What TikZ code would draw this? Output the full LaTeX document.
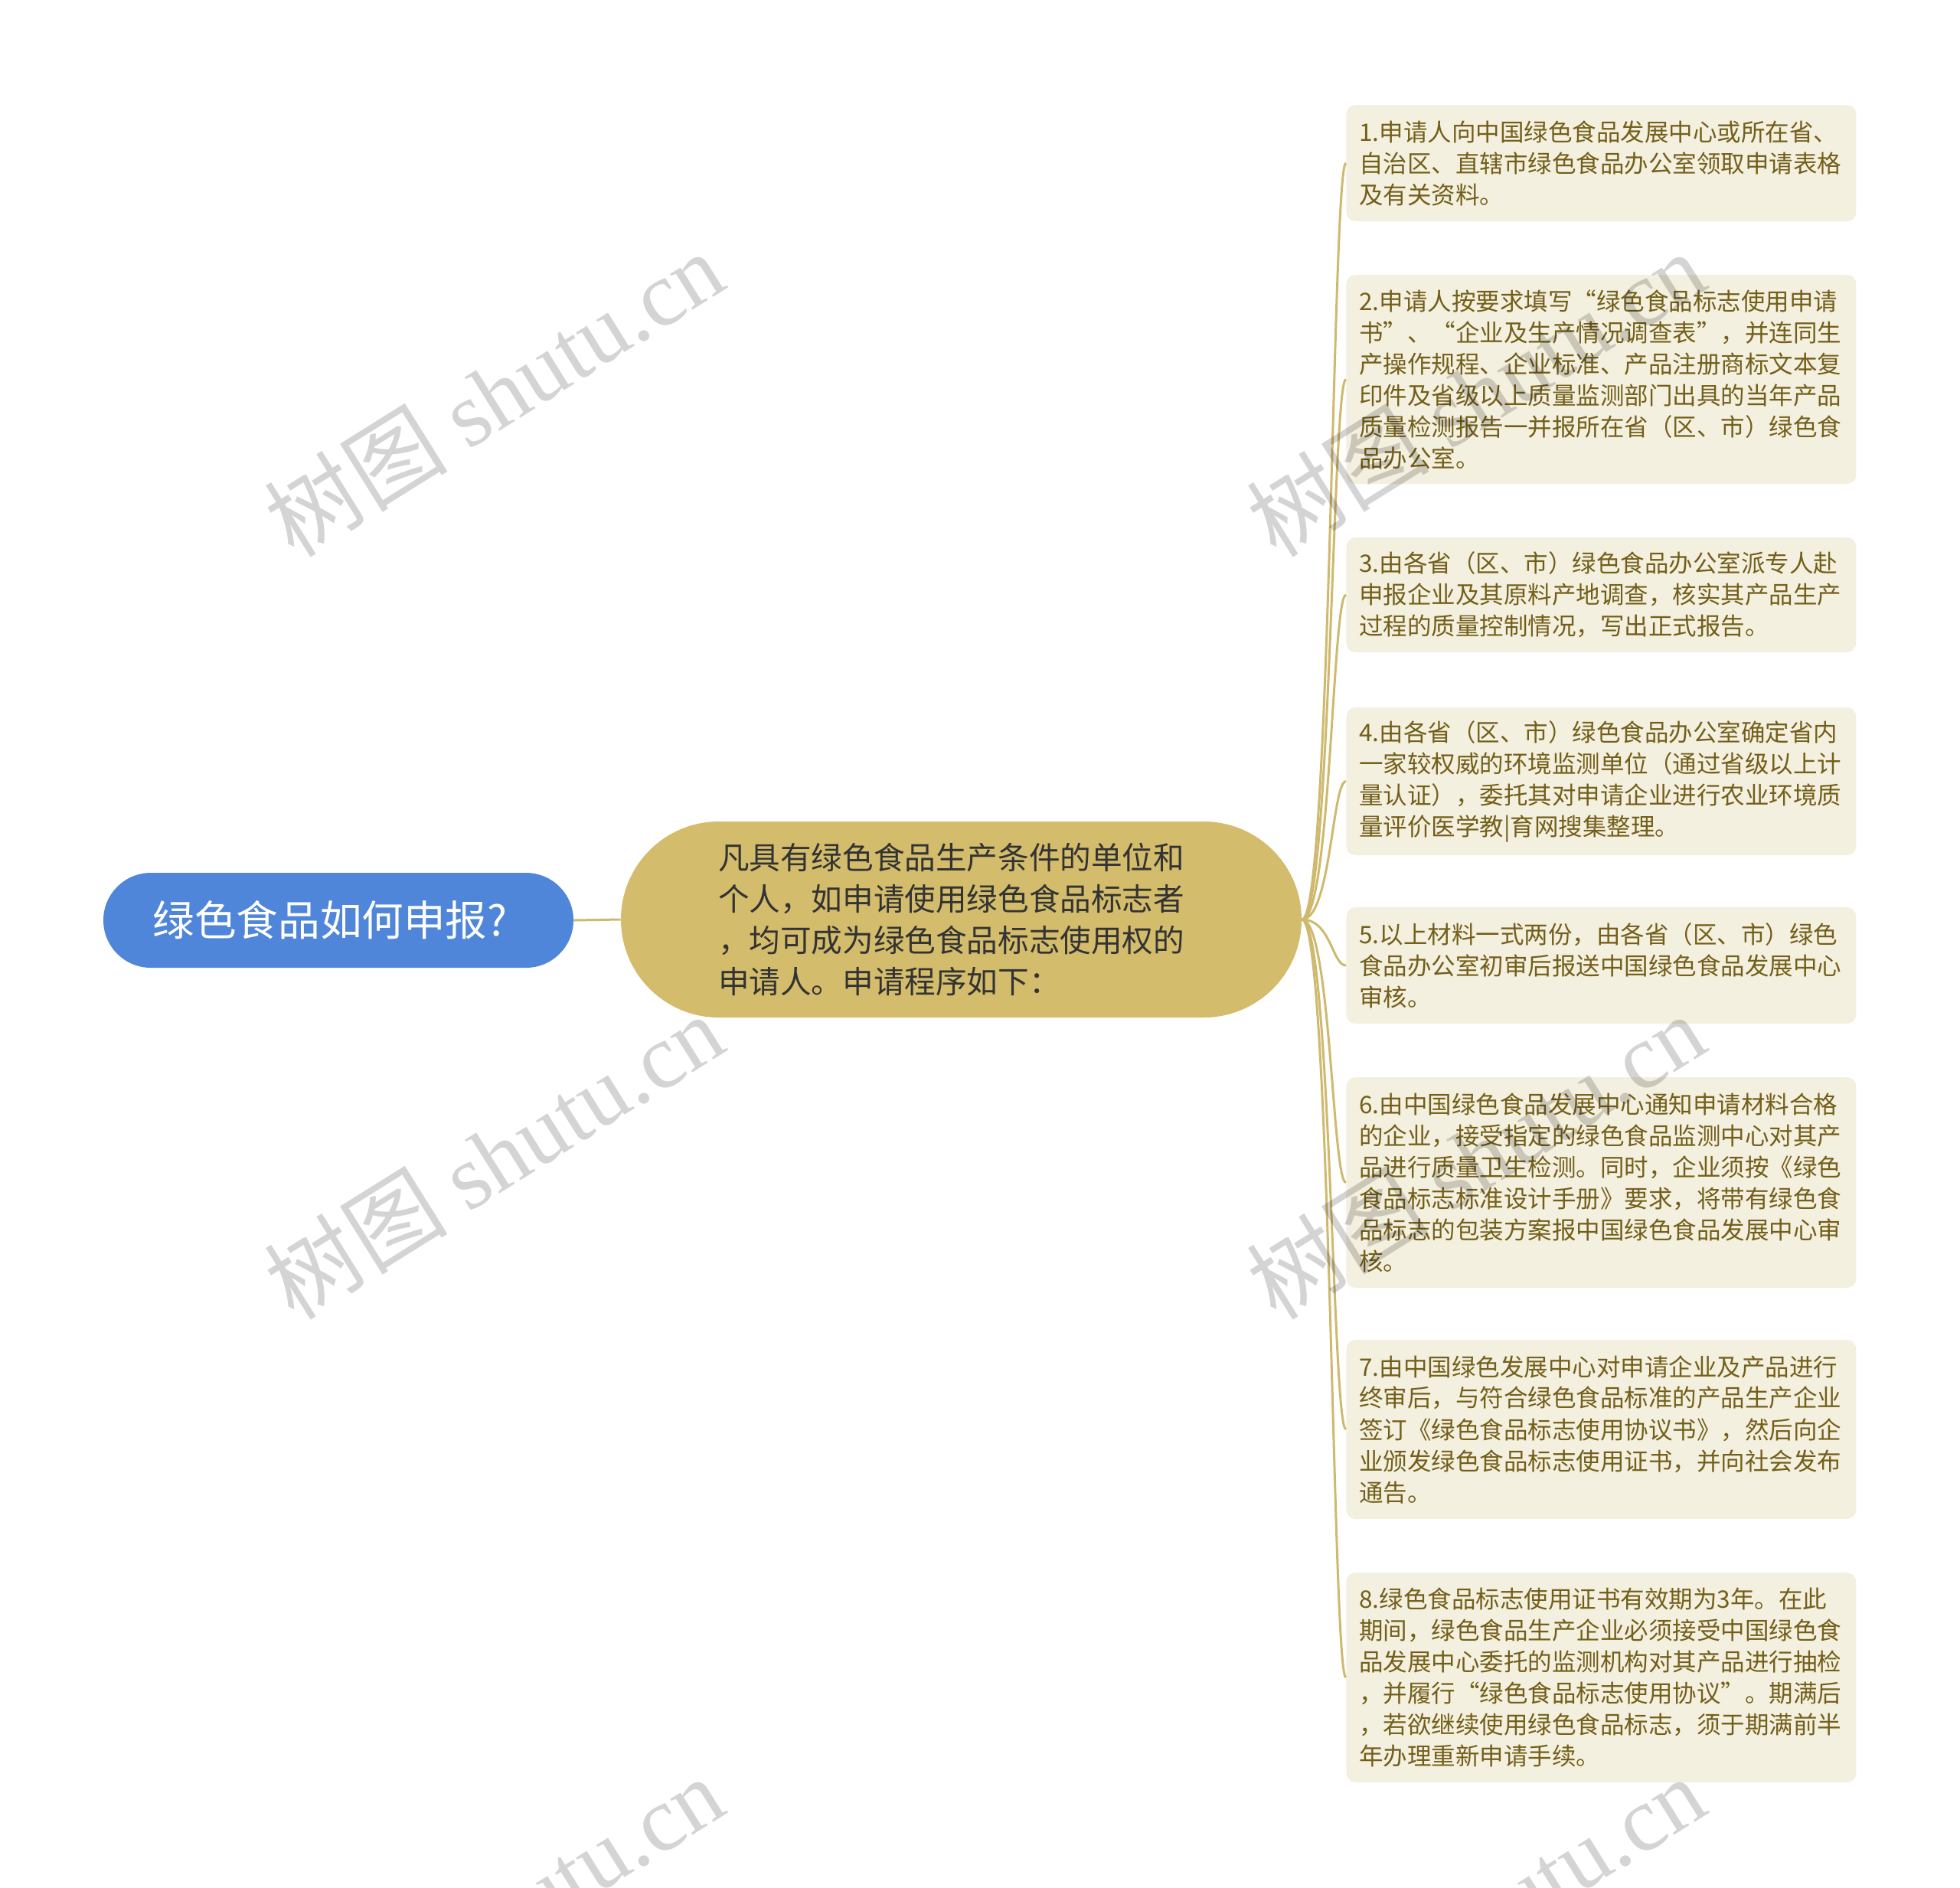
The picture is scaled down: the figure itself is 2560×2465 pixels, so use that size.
\documentclass[tikz,border=0pt]{standalone}
\usepackage{fontspec}
\setmainfont{Noto Sans CJK SC}
\newfontfamily\wmlatin{Liberation Serif}
\definecolor{rootblue}{HTML}{4F86D9}
\definecolor{goldfill}{HTML}{D3BC6B}
\definecolor{linegold}{HTML}{CFB96E}
\definecolor{leaffill}{HTML}{F4F0DF}
\definecolor{leaftext}{HTML}{735F1A}
\definecolor{centertext}{HTML}{333333}
\begin{document}
\begin{tikzpicture}[x=0.5pt,y=-0.5pt,
  rootbox/.style={fill=rootblue, text=white, rounded corners=31pt, minimum width=307pt, minimum height=62pt, inner sep=0pt, font={\fontsize{27.3}{30}\selectfont}},
  centerbox/.style={fill=goldfill, text=centertext, rounded corners=64pt, minimum width=444.5pt, minimum height=128pt, inner sep=0pt, align=left, font={\fontsize{20.3}{27}\selectfont}},
  leafbox/.style={fill=leaffill, text=leaftext, rounded corners=6pt, text width=316pt, inner xsep=8.5pt, inner ysep=0pt, align=left, anchor=west, font={\fontsize{15.75}{20.5}\selectfont}},
  conn/.style={draw=linegold, line width=1.5pt},
  wm/.style={text=black, opacity=0.17, rotate=32, font={\fontsize{60}{60}\selectfont}}
]
\fill[white] (0,0) rectangle (2560,2465);
\useasboundingbox (0,0) rectangle (2560,2465);

\node[rootbox] (root) at (442,1202) {绿色食品如何申报?\hspace*{11pt}};
\node[centerbox] (ctr) at (1255.5,1201) {凡具有绿色食品生产条件的单位和\hspace*{13pt}\\个人，如申请使用绿色食品标志者\\，均可成为绿色食品标志使用权的\\申请人。申请程序如下：};

\node[leafbox, minimum height=76pt] (l1) at (1758,213) {1.申请人向中国绿色食品发展中心或所在省、\\自治区、直辖市绿色食品办公室领取申请表格\\及有关资料。};
\node[leafbox, minimum height=136.5pt] (l2) at (1758,495.5) {2.申请人按要求填写“绿色食品标志使用申请\\书”、“企业及生产情况调查表”，并连同生\\产操作规程、企业标准、产品注册商标文本复\\印件及省级以上质量监测部门出具的当年产品\\质量检测报告一并报所在省（区、市）绿色食\\品办公室。};
\node[leafbox, minimum height=75pt] (l3) at (1758,777) {3.由各省（区、市）绿色食品办公室派专人赴\\申报企业及其原料产地调查，核实其产品生产\\过程的质量控制情况，写出正式报告。};
\node[leafbox, minimum height=96.5pt] (l4) at (1758,1020.5) {4.由各省（区、市）绿色食品办公室确定省内\\一家较权威的环境监测单位（通过省级以上计\\量认证），委托其对申请企业进行农业环境质\\量评价医学教|育网搜集整理。};
\node[leafbox, minimum height=76pt] (l5) at (1758,1261) {5.以上材料一式两份，由各省（区、市）绿色\\食品办公室初审后报送中国绿色食品发展中心\\审核。};
\node[leafbox, minimum height=137.5pt] (l6) at (1758,1544.5) {6.由中国绿色食品发展中心通知申请材料合格\\的企业，接受指定的绿色食品监测中心对其产\\品进行质量卫生检测。同时，企业须按《绿色\\食品标志标准设计手册》要求，将带有绿色食\\品标志的包装方案报中国绿色食品发展中心审\\核。};
\node[leafbox, minimum height=117pt] (l7) at (1758,1867) {7.由中国绿色发展中心对申请企业及产品进行\\终审后，与符合绿色食品标准的产品生产企业\\签订《绿色食品标志使用协议书》，然后向企\\业颁发绿色食品标志使用证书，并向社会发布\\通告。};
\node[leafbox, minimum height=137pt] (l8) at (1758,2191) {8.绿色食品标志使用证书有效期为3年。在此\\期间，绿色食品生产企业必须接受中国绿色食\\品发展中心委托的监测机构对其产品进行抽检\\，并履行“绿色食品标志使用协议”。期满后\\，若欲继续使用绿色食品标志，须于期满前半\\年办理重新申请手续。};

\draw[conn] (root.east) -- (ctr.west);
\foreach \l in {l1,l2,l3,l4,l5,l6,l7,l8}{
  \draw[conn] (ctr.east) .. controls +(38,0) and +(-18,0) .. (\l.west);
}

\node[wm] (w1) at (645,514) {树图 {\wmlatin shutu.cn}};
\node[wm] (w2) at (1927,514) {树图 {\wmlatin shutu.cn}};
\node[wm] (w3) at (645,1510) {树图 {\wmlatin shutu.cn}};
\node[wm] (w4) at (1927,1510) {树图 {\wmlatin shutu.cn}};
\node[wm] (w5) at (645,2506) {树图 {\wmlatin shutu.cn}};
\node[wm] (w6) at (1927,2506) {树图 {\wmlatin shutu.cn}};
\end{tikzpicture}
\end{document}
